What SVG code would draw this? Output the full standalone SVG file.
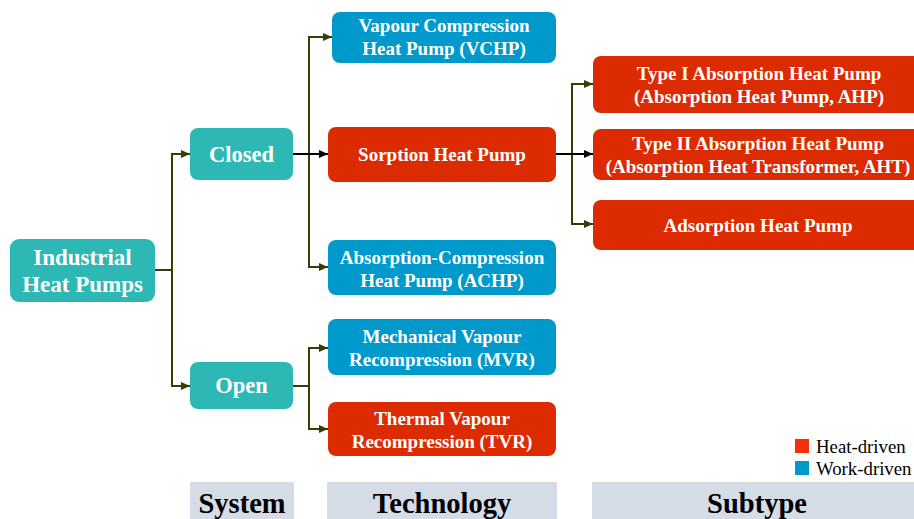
<svg xmlns="http://www.w3.org/2000/svg" width="914" height="519" viewBox="0 0 914 519">
<defs>
<marker id="ah" markerUnits="userSpaceOnUse" markerWidth="10" markerHeight="10" refX="9" refY="5" orient="auto"><path d="M0,1 L9,5 L0,9 Z" fill="#3b3b05"/></marker>
<marker id="ahb" markerUnits="userSpaceOnUse" markerWidth="10" markerHeight="10" refX="9" refY="5" orient="auto"><path d="M0,1 L9,5 L0,9 Z" fill="#000"/></marker>
</defs>
<style>
.teal{fill:#2eb8b5}
.blue{fill:#0099cc}
.red{fill:#dc2b00}
.t{font-family:"Liberation Serif","Times New Roman",serif;font-weight:bold;fill:#fff;text-anchor:middle;font-size:19px}
.c{fill:none;stroke:#3b3b05;stroke-width:2}
.cb{fill:none;stroke:#000;stroke-width:2}
.bar{fill:#d6dce5}
.lab{font-family:"Liberation Serif","Times New Roman",serif;font-weight:bold;font-size:28.5px;fill:#000;text-anchor:middle}
.leg{font-family:"Liberation Serif","Times New Roman",serif;font-size:18.8px;fill:#000}
</style>
<g id="connectors">
<path class="c" d="M155,270 H172"/>
<path class="c" d="M172,270 V154 H190" marker-end="url(#ah)"/>
<path class="c" d="M172,270 V386 H190" marker-end="url(#ah)"/>
<path class="c" d="M309,154 V37 H332" marker-end="url(#ah)"/>
<path class="c" d="M309,154 V267 H328" marker-end="url(#ah)"/>
<path class="cb" d="M293,154 H328" marker-end="url(#ahb)"/>
<path class="c" d="M293,386 H309"/>
<path class="c" d="M309,386 V348 H328" marker-end="url(#ah)"/>
<path class="c" d="M309,386 V429 H328" marker-end="url(#ah)"/>
<path class="c" d="M572,154 V84 H593" marker-end="url(#ah)"/>
<path class="c" d="M572,154 V224 H593" marker-end="url(#ah)"/>
<path class="cb" d="M556,154 H593" marker-end="url(#ahb)"/>
</g>
<g id="ihp"><rect class="teal" x="10" y="239" width="145" height="63" rx="9"/><text class="t" style="font-size:23px" x="82.5" y="265">Industrial</text><text class="t" style="font-size:23px" x="82.5" y="292">Heat Pumps</text></g>
<g id="closed"><rect class="teal" x="190" y="128" width="103" height="52" rx="8"/><text class="t" style="font-size:22.5px" x="241.5" y="162">Closed</text></g>
<g id="open"><rect class="teal" x="190" y="362" width="103" height="47" rx="8"/><text class="t" style="font-size:22.5px" x="241.5" y="393">Open</text></g>
<g id="vchp"><rect class="blue" x="332" y="12" width="224" height="51" rx="8"/><text class="t" x="444" y="32">Vapour Compression</text><text class="t" x="444" y="55">Heat Pump (VCHP)</text></g>
<g id="sorption"><rect class="red" x="328" y="127" width="228" height="55" rx="8"/><text class="t" x="442" y="161">Sorption Heat Pump</text></g>
<g id="achp"><rect class="blue" x="328" y="240" width="228" height="55" rx="8"/><text class="t" x="442" y="264">Absorption-Compression</text><text class="t" x="442" y="287">Heat Pump (ACHP)</text></g>
<g id="mvr"><rect class="blue" x="328" y="319" width="228" height="56" rx="8"/><text class="t" x="442" y="343">Mechanical Vapour</text><text class="t" x="442" y="366">Recompression (MVR)</text></g>
<g id="tvr"><rect class="red" x="328" y="402" width="228" height="54" rx="8"/><text class="t" x="442" y="425">Thermal Vapour</text><text class="t" x="442" y="448">Recompression (TVR)</text></g>
<g id="type1"><rect class="red" x="593" y="56" width="330" height="57" rx="8"/><text class="t" x="759" y="80">Type I Absorption Heat Pump</text><text class="t" x="759" y="103">(Absorption Heat Pump, AHP)</text></g>
<g id="type2"><rect class="red" x="593" y="129" width="330" height="51" rx="8"/><text class="t" x="758" y="150">Type II Absorption Heat Pump</text><text class="t" x="758" y="173">(Absorption Heat Transformer, AHT)</text></g>
<g id="adsorption"><rect class="red" x="593" y="200" width="330" height="50" rx="8"/><text class="t" x="758" y="232">Adsorption Heat Pump</text></g>
<g id="legend">
<rect x="795" y="439" width="14" height="14" fill="#f2300a"/><text class="leg" x="816" y="453">Heat-driven</text>
<rect x="795" y="461" width="14" height="14" fill="#0099cc"/><text class="leg" x="816" y="475">Work-driven</text>
</g>
<g id="labels">
<rect class="bar" x="190" y="482" width="104" height="37"/><text class="lab" x="242" y="513">System</text>
<rect class="bar" x="327" y="482" width="230" height="37"/><text class="lab" x="442" y="513">Technology</text>
<rect class="bar" x="592" y="482" width="322" height="37"/><text class="lab" x="757" y="513">Subtype</text>
</g>
</svg>
